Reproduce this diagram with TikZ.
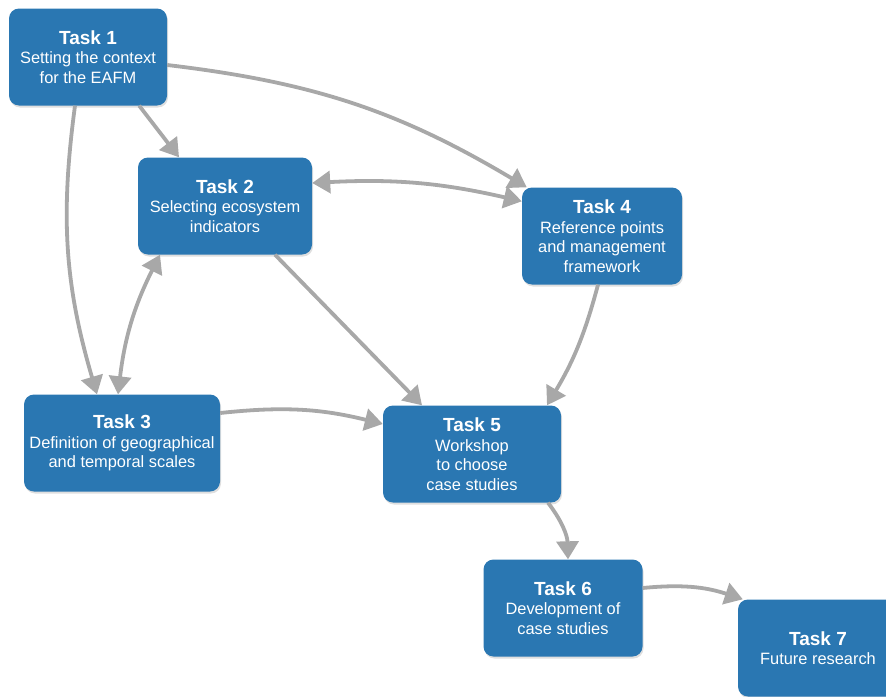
\documentclass[tikz,border=0pt]{standalone}
\usepackage{fontspec}
\setmainfont{Liberation Sans}
\usepackage{tikz}
\usetikzlibrary{arrows.meta,shadows}
\definecolor{taskblue}{RGB}{42,119,178}
\definecolor{arrowgray}{RGB}{168,168,168}
\newcommand{\tk}[2]{{\fontsize{19}{20}\selectfont\bfseries #1}\\#2}

\begin{document}
\begin{tikzpicture}[x=1pt, y=1pt,
        task/.style = {draw=none, fill=taskblue, text=white, rounded corners=10pt,
            align=center, inner sep=0pt, minimum height=97pt,
            font=\fontsize{16.4}{19.5}\selectfont,
            drop shadow={opacity=.25, shadow xshift=1pt, shadow yshift=-2pt}},
        link/.style = {draw=arrowgray, line width=3.8pt,
            -{Triangle[width=22pt, length=18pt]}},
        twoway/.style = {link, {Triangle[width=22pt, length=18pt]}-{Triangle[width=22pt, length=18pt]}}]
        \useasboundingbox (0,0) rectangle (886,-696);

        \node[task, minimum width=158pt] (t1) at (88,-57)  {\tk{Task 1}{Setting the context\\for the EAFM}};
        \node[task, minimum width=174pt] (t2) at (225,-206) {\tk{Task 2}{Selecting ecosystem\\indicators}};
        \node[task, minimum width=160pt] (t4) at (602,-236) {\tk{Task 4}{Reference points\\and management\\framework}};
        \node[task, minimum width=196pt] (t3) at (122,-443) {\tk{Task 3}{Definition of geographical\\and temporal scales}};
        \node[task, minimum width=178pt] (t5) at (472,-454) {\tk{Task 5}{Workshop\\to choose\\case studies}};
        \node[task, minimum width=159pt] (t6) at (563,-608) {\tk{Task 6}{Development of\\case studies}};
        \node[task, minimum width=160pt] (t7) at (818,-648) {\tk{Task 7}{Future research}};

        \draw[link] ([xshift=-28pt]t1.south east) -- ([xshift=-46pt]t2.north);
        \draw[link] ([yshift=-8pt]t1.east) to[bend left=12] ([xshift=5pt]t4.north west);
        \draw[link] ([xshift=-13pt]t1.south) to[bend right=12] ([xshift=-25pt]t3.north);
        \draw[twoway] ([yshift=23pt]t2.east) to[bend left=8] ([yshift=-14pt]t4.north west);
        \draw[twoway] ([xshift=-65pt]t2.south) to[bend right=10] ([xshift=-4pt]t3.north);
        \draw[link] ([xshift=50pt]t2.south) -- ([xshift=-50pt]t5.north);
        \draw[link] ([xshift=-4pt]t4.south) to[bend left=8] ([xshift=75pt]t5.north);
        \draw[link] ([yshift=30pt]t3.east) to[bend left=10] ([yshift=30pt]t5.west);
        \draw[link] ([xshift=76pt]t5.south) to[bend left=18] ([xshift=5pt]t6.north);
        \draw[link] ([yshift=20pt]t6.east) to[bend left=12] ([xshift=5pt]t7.north west);
\end{tikzpicture}
\end{document}
